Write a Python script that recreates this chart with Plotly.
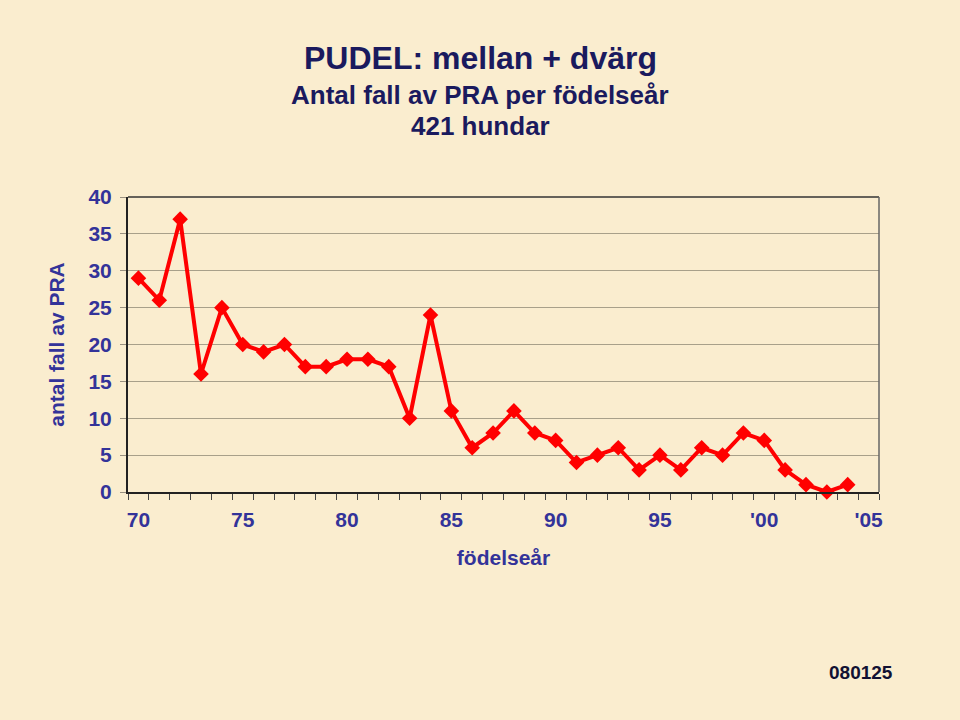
import plotly.graph_objects as go

years = list(range(1970, 2005))
cases = [29, 26, 37, 16, 25, 20, 19, 20, 17, 17,
         18, 18, 17, 10, 24, 11, 6, 8, 11, 8,
         7, 4, 5, 6, 3, 5, 3, 6, 5, 8,
         7, 3, 1, 0, 1]
tick_years = [1970, 1975, 1980, 1985, 1990, 1995, 2000, 2005]
tick_labels = ["70", "75", "80", "85", "90", "95", "'00", "'05"]
y_ticks = [0, 5, 10, 15, 20, 25, 30, 35, 40]

BG = "#FAEDCF"
BLUE = "#333399"
NAVY = "#1A1A5E"
FONT = "Liberation Sans, Arial, sans-serif"

fig = go.Figure()
fig.add_trace(go.Scatter(
    x=years, y=cases, mode="lines+markers",
    line=dict(color="#FF0000", width=4),
    marker=dict(symbol="diamond", size=12, color="#FF0000"),
    showlegend=False, cliponaxis=False,
))

W, H = 960, 720
l, r, t, b = 128, 81, 197, 228

fig.update_layout(
    width=W, height=H,
    paper_bgcolor=BG, plot_bgcolor="rgba(0,0,0,0)",
    margin=dict(l=l, r=r, t=t, b=b),
    font=dict(family=FONT, color=BLUE),
    xaxis=dict(
        range=[1969.5, 2005.5], tickvals=tick_years,
        ticktext=[f"<b>{s}</b>" for s in tick_labels],
        ticks="", showgrid=False, zeroline=False,
        showline=True, linecolor="#222222", linewidth=2, mirror=False,
        tickfont=dict(size=21, color=BLUE, family=FONT),
        ticklabelstandoff=8,
        minor=dict(ticks="outside", tick0=1969.5, dtick=1, ticklen=6,
                   tickcolor="#444444", tickwidth=1, showgrid=False),
        title=dict(text="<b>födelseår</b>", font=dict(size=21, color=BLUE), standoff=20),
    ),
    yaxis=dict(
        range=[0, 40], tickvals=y_ticks,
        ticktext=[f"<b>{v}</b>" for v in y_ticks],
        ticks="outside", ticklen=6,
        tickcolor="#999080", showgrid=True, gridcolor="#A8A08A", gridwidth=1,
        zeroline=False, showline=True, linecolor="#222222", linewidth=2,
        tickfont=dict(size=21, color=BLUE, family=FONT),
        ticklabelstandoff=4,
        title=dict(text="<b>antal fall av PRA</b>", font=dict(size=21, color=BLUE), standoff=18),
    ),
    shapes=[
        dict(type="line", xref="paper", yref="paper", x0=0, x1=1, y0=1, y1=1,
             line=dict(color="#333333", width=1.5)),
        dict(type="line", xref="paper", yref="paper", x0=1, x1=1, y0=0, y1=1,
             line=dict(color="#666666", width=1.5)),
    ],
)

pw, ph = W - l - r, H - t - b
def px(xp, yp):
    return (xp - l) / pw, (H - b - yp) / ph

texts = [
    ("<b>PUDEL: mellan + dvärg</b>", 32, NAVY, 480, 58),
    ("<b>Antal fall av PRA per födelseår</b>", 26, NAVY, 480, 95),
    ("<b>421 hundar</b>", 26, NAVY, 480, 126),
    ("<b>080125</b>", 19, "#111133", 861, 672),
]
for txt, size, col, xp, yp in texts:
    xx, yy = px(xp, yp)
    fig.add_annotation(text=txt, xref="paper", yref="paper", x=xx, y=yy,
                       xanchor="center", yanchor="middle", showarrow=False,
                       font=dict(size=size, color=col, family=FONT))

fig.write_html("out.html", config={"displayModeBar": False},
               post_script="document.body.style.margin='0';document.body.style.background='" + BG + "';")
